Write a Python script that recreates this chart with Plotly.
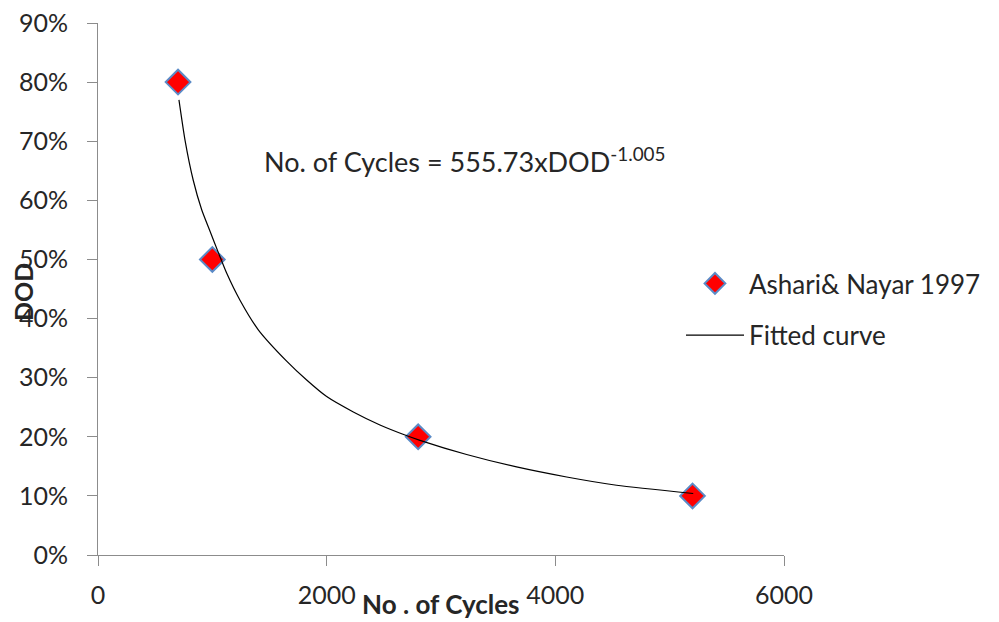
import plotly.graph_objects as go

# Measured data (Ashari & Nayar 1997)
cycles = [700, 1000, 2800, 5200]
dod = [0.80, 0.50, 0.20, 0.10]

# Fitted curve
fit_cycles = [708, 761, 833, 907, 979, 1052, 1125, 1242, 1402, 1650, 1825, 2000, 2233,
              2466, 2685, 2816, 3224, 3661, 4099, 4536, 5206]
fit_dod = [0.770, 0.702, 0.634, 0.584, 0.548, 0.512, 0.477, 0.431, 0.381, 0.328, 0.296,
           0.268, 0.242, 0.220, 0.203, 0.194, 0.170, 0.149, 0.132, 0.118, 0.104]

x_ticks = [0, 2000, 4000, 6000]
y_ticks = [0, 0.1, 0.2, 0.3, 0.4, 0.5, 0.6, 0.7, 0.8, 0.9]

FONT = "Lato, 'Open Sans', sans-serif"
TXT = "#262626"
AX = "#8C8C8C"

L, R, T, B = 98, 215, 23, 67
W, H = 999, 622
pw, ph = W - L - R, H - T - B


def px(xp):
    return (xp - L) / pw


def py(yp):
    return (H - B - yp) / ph


fig = go.Figure()
fig.add_trace(go.Scatter(
    x=cycles, y=dod, mode="markers", name="Ashari& Nayar 1997", legendgroup="a",
    marker=dict(symbol="diamond", size=19, color="#FF0000",
                line=dict(color="#5B8BC7", width=2)),
))
fig.add_trace(go.Scatter(
    x=fit_cycles, y=fit_dod, mode="lines", name="Fitted curve", legendgroup="b",
    line=dict(color="#000000", width=1.2, shape="spline", smoothing=0.6),
))

fig.add_annotation(
    x=px(262), y=py(160), xref="paper", yref="paper", showarrow=False,
    text="No. of Cycles = 555.73xDOD<sup>-1.005</sup>",
    font=dict(family=FONT, size=27, color=TXT), xanchor="left", yanchor="middle",
)
fig.add_annotation(
    x=px(441), y=py(621), xref="paper", yref="paper", showarrow=False,
    text="<b>No . of Cycles</b>",
    font=dict(family=FONT, size=26, color=TXT), xanchor="center", yanchor="bottom",
    borderpad=0,
)
fig.add_annotation(
    x=px(23), y=py(292), xref="paper", yref="paper", showarrow=False,
    text="<b>DOD</b>", textangle=-90,
    font=dict(family=FONT, size=25, color=TXT), xanchor="center", yanchor="middle",
)

fig.update_layout(
    width=W, height=H,
    paper_bgcolor="white", plot_bgcolor="white",
    margin=dict(l=L, r=R, t=T, b=B, autoexpand=False),
    font=dict(family=FONT, size=25, color=TXT),
    showlegend=True,
    legend=dict(x=px(681), y=py(260), xanchor="left", yanchor="top",
                font=dict(family=FONT, size=26, color=TXT), traceorder="grouped",
                bgcolor="rgba(0,0,0,0)", tracegroupgap=15, itemwidth=58),
    xaxis=dict(range=[0, 6000], tickvals=x_ticks, ticktext=[str(v) for v in x_ticks],
               showgrid=False, zeroline=False, showline=True, linecolor=AX, linewidth=1,
               ticks="outside", ticklen=10, tickcolor=AX, ticklabelstandoff=8,
               tickfont=dict(family=FONT, size=25, color=TXT)),
    yaxis=dict(range=[0, 0.9], tickvals=y_ticks, ticktext=[f"{int(round(v*100))}%" for v in y_ticks],
               showgrid=False, zeroline=False, showline=True, linecolor=AX, linewidth=1,
               ticks="outside", ticklen=10, tickcolor=AX, ticklabelstandoff=14,
               tickfont=dict(family=FONT, size=25, color=TXT)),
)

fig.write_html("out.html")
